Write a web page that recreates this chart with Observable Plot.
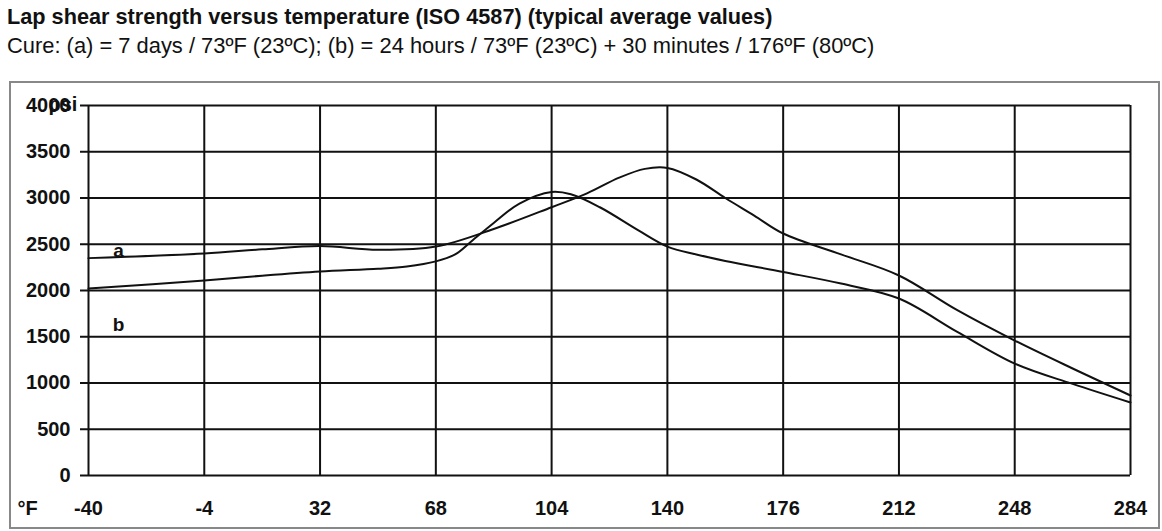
<!DOCTYPE html>
<html>
<head>
<meta charset="utf-8">
<script src="https://cdn.jsdelivr.net/npm/d3@7"></script>
<script src="https://cdn.jsdelivr.net/npm/@observablehq/plot@0.6"></script>
<style>
  body { margin: 0; background: #fff; font-family: "Liberation Sans", Arial, sans-serif; }
  #wrap { position: relative; width: 1162px; height: 531px; overflow: hidden; }
  #title { position: absolute; left: 7px; top: 4px; font-size: 21.7px; font-weight: bold; color: #111; white-space: nowrap; }
  #subtitle { position: absolute; left: 7px; top: 33px; font-size: 21.9px; color: #111; white-space: nowrap; }
  #box { position: absolute; left: 9px; top: 81px; width: 1147px; height: 444px; border: 2px solid #888; }
  #chart { position: absolute; left: 0; top: 70px; }
</style>
</head>
<body>
<div id="wrap">
  <div id="title">Lap shear strength versus temperature (ISO 4587) (typical average values)</div>
  <div id="subtitle">Cure: (a) = 7 days / 73ºF (23ºC); (b) = 24 hours / 73ºF (23ºC) + 30 minutes / 176ºF (80ºC)</div>
  <div id="box"></div>
  <div id="chart"></div>
</div>
<script>
// Tick values
const xTicks = [-40, -4, 32, 68, 104, 140, 176, 212, 248, 284];
const yTicks = [0, 500, 1000, 1500, 2000, 2500, 3000, 3500, 4000];

// Series a: 7 days / 73°F
const aTemp = [-40, -4, 14, 32, 50, 68, 86, 104, 115, 125, 133, 140, 149, 158, 167, 176, 194, 212, 230, 248, 266, 284];
const aPsi  = [2350, 2400, 2445, 2480, 2440, 2475, 2665, 2900, 3050, 3220, 3315, 3325, 3200, 3000, 2810, 2616, 2390, 2162, 1790, 1459, 1157, 865];

// Series b: 24 hours / 73°F + 30 minutes / 176°F
const bTemp = [-40, -4, 14, 32, 50, 59, 68, 74, 79, 86, 94, 104, 110, 119, 131, 140, 149, 158, 176, 194, 212, 230, 248, 266, 284];
const bPsi  = [2022, 2108, 2160, 2205, 2235, 2260, 2315, 2390, 2530, 2730, 2940, 3065, 3040, 2900, 2650, 2475, 2390, 2320, 2200, 2075, 1913, 1555, 1210, 990, 789];

const seriesNames = ["a", "b"];

const rows = [
  ...aTemp.map((t, i) => ({series: "a", temp: t, psi: aPsi[i]})),
  ...bTemp.map((t, i) => ({series: "b", temp: t, psi: bPsi[i]}))
];
const firstPoints = seriesNames.map(s => rows.find(r => r.series === s));

const ink = "#111";
const fontBold = {fontFamily: "'Liberation Sans', Arial, sans-serif", fontWeight: "bold"};

const chart = Plot.plot({
  width: 1162,
  height: 461,
  marginLeft: 88,
  marginRight: 32,
  marginTop: 35,
  marginBottom: 56,
  style: {fontFamily: "'Liberation Sans', Arial, sans-serif", fontSize: "20px", color: ink, background: "transparent"},
  x: {domain: [-40, 284]},
  y: {domain: [0, 4000]},
  marks: [
    Plot.gridX(xTicks, {stroke: ink, strokeOpacity: 1, strokeWidth: 2}),
    Plot.gridY(yTicks, {stroke: ink, strokeOpacity: 1, strokeWidth: 2}),
    Plot.axisY(yTicks, {tickSize: 8, tickPadding: 10, strokeWidth: 2, stroke: ink, fontWeight: "bold", fontSize: 20, label: null, tickFormat: d => String(d)}),
    Plot.axisX(xTicks, {tickSize: 0, tickPadding: 25, fontWeight: "bold", fontSize: 20, label: null, tickFormat: d => String(d)}),
    Plot.line(rows, {x: "temp", y: "psi", z: "series", stroke: ink, strokeWidth: 2, curve: "catmull-rom"}),
    Plot.text(firstPoints.filter(d => d.series === "a"), {x: "temp", y: "psi", text: "series", dx: 30, dy: -7,
      ...fontBold, fontSize: 19, fill: ink, textAnchor: "middle"}),
    Plot.text(firstPoints.filter(d => d.series === "b"), {x: "temp", y: "psi", text: "series", dx: 30, dy: 36,
      ...fontBold, fontSize: 19, fill: ink, textAnchor: "middle"}),
    Plot.text(["psi"], {frameAnchor: "top-left", dx: -40, dy: -9, ...fontBold, fontSize: 20, fill: ink, textAnchor: "start"}),
    Plot.text(["°F"], {frameAnchor: "bottom-left", dx: -71, dy: 39, ...fontBold, fontSize: 20, fill: ink, textAnchor: "start"})
  ]
});
document.getElementById("chart").appendChild(chart);
</script>
</body>
</html>
